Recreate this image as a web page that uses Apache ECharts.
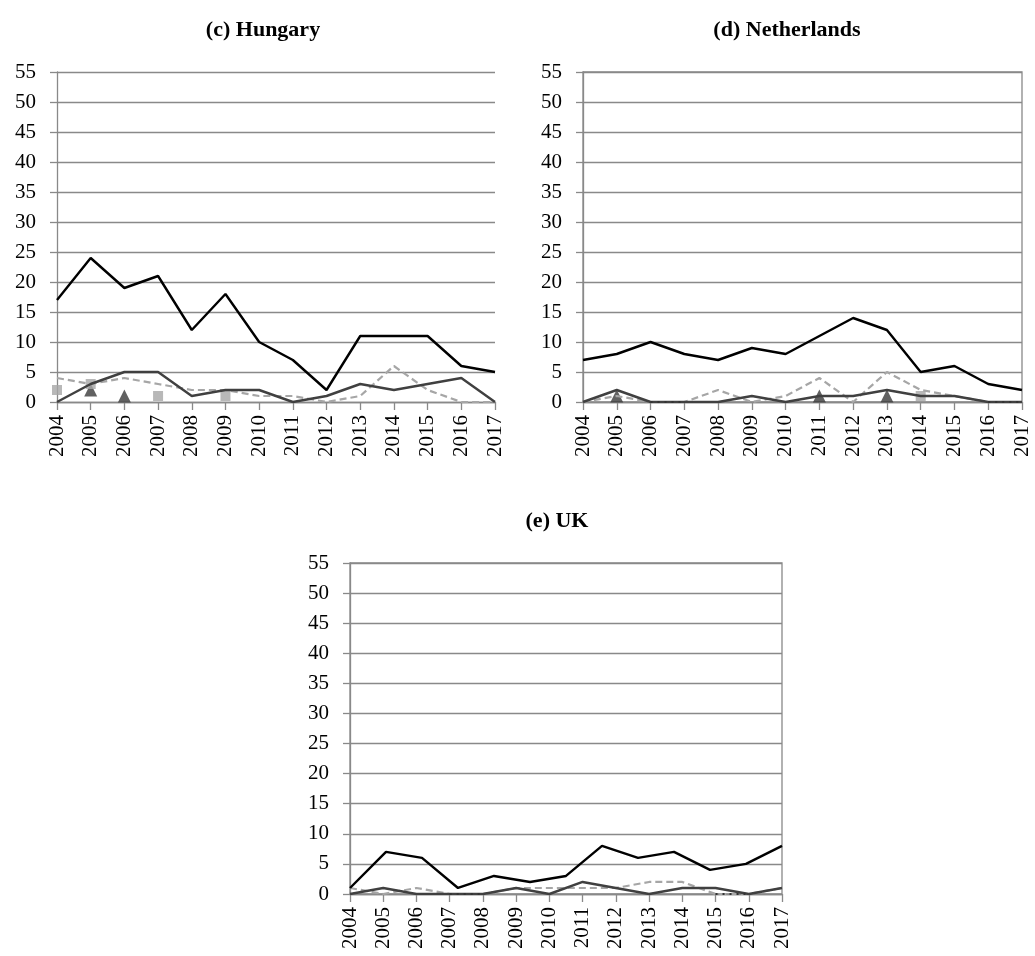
<!DOCTYPE html>
<html>
<head>
<meta charset="utf-8">
<script src="https://cdn.jsdelivr.net/npm/echarts@6/dist/echarts.min.js"></script>
<style>
  html, body { margin: 0; padding: 0; background: #fff; }
  #chart { width: 1035px; height: 956px; }
</style>
</head>
<body>
<div id="chart"></div>
<script>
// categories
var years = ['2004','2005','2006','2007','2008','2009','2010','2011','2012','2013','2014','2015','2016','2017'];

// (c) Hungary
var huTotal = [17, 24, 19, 21, 12, 18, 10, 7, 2, 11, 11, 11, 6, 5];
var huDark = [0, 3, 5, 5, 1, 2, 2, 0, 1, 3, 2, 3, 4, 0];
var huLight = [4, 3, 4, 3, 2, 2, 1, 1, 0, 1, 6, 2, 0, 0];
var huTriangles = ['-', 2, 1, '-', '-', '-', '-', '-', '-', '-', '-', '-', '-', '-'];
var huSquares = [2, 3, '-', 1, '-', 1, '-', '-', '-', '-', '-', '-', '-', '-'];

// (d) Netherlands
var nlTotal = [7, 8, 10, 8, 7, 9, 8, 11, 14, 12, 5, 6, 3, 2];
var nlDark = [0, 2, 0, 0, 0, 1, 0, 1, 1, 2, 1, 1, 0, 0];
var nlLight = [0, 1, 0, 0, 2, 0, 1, 4, 0, 5, 2, 1, 0, 0];
var nlDotted = [null, null, 0, 0, null, null, null, null, null, null, null, null, 0, 0];
var nlTriangles = ['-', 1, '-', '-', '-', '-', '-', 1, '-', 1, '-', '-', '-', '-'];
var nlSquares = ['-', '-', '-', '-', '-', '-', '-', '-', '-', '-', 1, '-', '-', '-'];

// (e) UK  (the black line in the source has 13 points stretched over the axis)
var ukTotal = [1, 7, 6, 1, 3, 2, 3, 8, 6, 7, 4, 5, 8];
var ukDark = [0, 1, 0, 0, 0, 1, 0, 2, 1, 0, 1, 1, 0, 1];
var ukLight = [1, 0, 1, 0, 0, 1, 1, 1, 1, 2, 2, 0, 0, 1];
var ukDotted = [null, null, null, 0, 0, null, null, null, null, null, null, 0, 0, null];

var yMax = 55, yStep = 5;

var gridColor = '#898989';
var serif = 'Liberation Serif';

function xAxis(gi) {
  return {
    type: 'category', gridIndex: gi, data: years, boundaryGap: false,
    axisLine: { lineStyle: { color: gridColor, width: 1.3 } },
    axisTick: { show: true, length: 8, lineStyle: { color: gridColor, width: 1.3 } },
    axisLabel: { rotate: 90, interval: 0, margin: 13, color: '#000', fontSize: 21, fontFamily: serif }
  };
}
function yAxis(gi) {
  return {
    type: 'value', gridIndex: gi, min: 0, max: yMax, interval: yStep,
    axisLine: { show: true, lineStyle: { color: gridColor, width: 1.3 } },
    axisTick: { show: true, length: 7, lineStyle: { color: gridColor, width: 1.3 } },
    splitLine: { show: true, lineStyle: { color: gridColor, width: 1.3 } },
    axisLabel: { margin: 21, color: '#000', fontSize: 21, fontFamily: serif }
  };
}
function line(idx, data, color, type, width, xi) {
  return {
    type: 'line', xAxisIndex: xi === undefined ? idx : xi, yAxisIndex: idx, data: data,
    symbol: 'none', connectNulls: false,
    lineStyle: { color: color, width: width, type: type }
  };
}
function marks(idx, data, shape, size, color) {
  return {
    type: 'scatter', xAxisIndex: idx, yAxisIndex: idx, data: data,
    symbol: shape, symbolSize: size, itemStyle: { color: color }
  };
}

var titleStyle = { fontFamily: serif, fontSize: 22, fontWeight: 'bold', color: '#000' };

var chart = echarts.init(document.getElementById('chart'));
chart.setOption({
  animation: false,
  backgroundColor: '#fff',
  title: [
    { text: '(c) Hungary', left: 258, top: 14, textAlign: 'center', textStyle: titleStyle },
    { text: '(d) Netherlands', left: 782, top: 14, textAlign: 'center', textStyle: titleStyle },
    { text: '(e) UK', left: 552, top: 505, textAlign: 'center', textStyle: titleStyle }
  ],
  grid: [
    { left: 57, top: 72, width: 438, height: 330 },
    { left: 583, top: 72, width: 439, height: 330, show: true, borderColor: gridColor, borderWidth: 1.3 },
    { left: 350, top: 563, width: 432, height: 331, show: true, borderColor: gridColor, borderWidth: 1.3 }
  ],
  xAxis: [
    xAxis(0), xAxis(1), xAxis(2),
    { type: 'category', gridIndex: 2, show: false, boundaryGap: false, data: ukTotal.map(function (v, i) { return i; }) }
  ],
  yAxis: [yAxis(0), yAxis(1), yAxis(2)],
  series: [
    line(0, huLight, '#a6a6a6', [7, 4], 2.2),
    line(0, huDark, '#404040', 'solid', 2.4),
    line(0, huTotal, '#000', 'solid', 2.4),
    marks(0, huTriangles, 'triangle', 13, '#3a3a3a'),
    marks(0, huSquares, 'rect', 10, '#a6a6a6'),

    line(1, nlLight, '#a6a6a6', [7, 4], 2.2),
    line(1, nlDark, '#404040', 'solid', 2.4),
    line(1, nlTotal, '#000', 'solid', 2.4),
    line(1, nlDotted, '#333', [2, 5], 2),
    marks(1, nlTriangles, 'triangle', 13, '#3a3a3a'),
    marks(1, nlSquares, 'rect', 10, '#a6a6a6'),

    line(2, ukLight, '#a6a6a6', [7, 4], 2.2),
    line(2, ukDark, '#404040', 'solid', 2.4),
    line(2, ukTotal, '#000', 'solid', 2.4, 3),
    line(2, ukDotted, '#333', [2, 5], 2)
  ]
});
</script>
</body>
</html>
